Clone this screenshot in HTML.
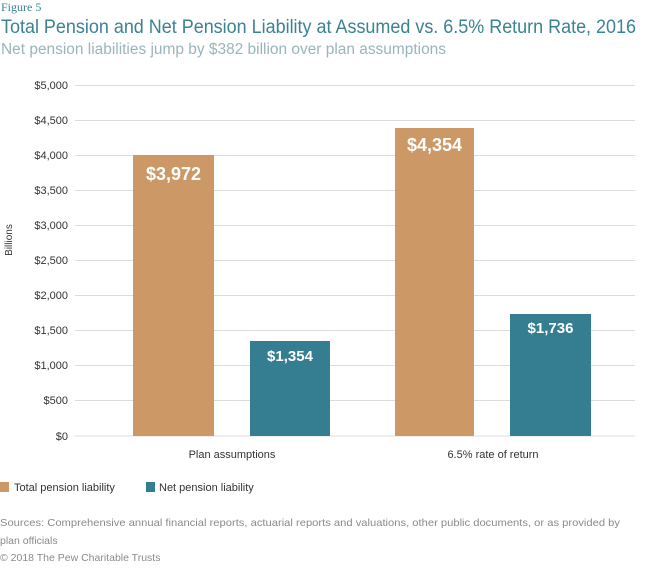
<!DOCTYPE html>
<html><head><meta charset="utf-8"><style>
body{margin:0;width:650px;height:564px;background:#fff;font-family:"Liberation Sans",sans-serif;overflow:hidden}
</style></head><body>
<svg width="650" height="564" xmlns="http://www.w3.org/2000/svg" font-family="Liberation Sans, sans-serif">
<text x="1" y="11" font-family="Liberation Serif, serif" font-size="12" fill="#3b8293">Figure 5</text>
<text x="1" y="33" font-size="19" fill="#3b8293" textLength="635" lengthAdjust="spacingAndGlyphs">Total Pension and Net Pension Liability at Assumed vs. 6.5% Return Rate, 2016</text>
<text x="1" y="54" font-size="15.5" fill="#9ab4bd" textLength="445" lengthAdjust="spacingAndGlyphs">Net pension liabilities jump by $382 billion over plan assumptions</text>
<g stroke="#dcdcdc" stroke-width="1">
<line x1="75" x2="635" y1="85.5" y2="85.5"/><line x1="75" x2="635" y1="120.5" y2="120.5"/>
<line x1="75" x2="635" y1="155.5" y2="155.5"/><line x1="75" x2="635" y1="190.5" y2="190.5"/>
<line x1="75" x2="635" y1="225.5" y2="225.5"/><line x1="75" x2="635" y1="260.5" y2="260.5"/>
<line x1="75" x2="635" y1="295.5" y2="295.5"/><line x1="75" x2="635" y1="330.5" y2="330.5"/>
<line x1="75" x2="635" y1="365.5" y2="365.5"/><line x1="75" x2="635" y1="400.5" y2="400.5"/>
<line x1="75" x2="635" y1="436" y2="436"/>
</g>
<g font-size="11" fill="#333" text-anchor="end">
<text x="68" y="89">$5,000</text><text x="68" y="124">$4,500</text><text x="68" y="159">$4,000</text>
<text x="68" y="194">$3,500</text><text x="68" y="229">$3,000</text><text x="68" y="264">$2,500</text>
<text x="68" y="299">$2,000</text><text x="68" y="334">$1,500</text><text x="68" y="369">$1,000</text>
<text x="68" y="404">$500</text><text x="68" y="440">$0</text>
</g>
<text transform="translate(12,240) rotate(-90)" font-size="10" fill="#333" text-anchor="middle">Billions</text>
<rect x="133" y="155" width="81" height="281" fill="#cc9966"/>
<rect x="250" y="341" width="80" height="95" fill="#357e91"/>
<rect x="395" y="128" width="79" height="308" fill="#cc9966"/>
<rect x="510" y="314" width="81" height="122" fill="#357e91"/>
<g font-size="18" font-weight="bold" fill="#fff" text-anchor="middle">
<text x="173.5" y="180">$3,972</text><text x="434.5" y="151">$4,354</text>
</g>
<g font-size="15" font-weight="bold" fill="#fff" text-anchor="middle">
<text x="290" y="361">$1,354</text><text x="550.5" y="333">$1,736</text>
</g>
<g font-size="11" fill="#333" text-anchor="middle">
<text x="232" y="458">Plan assumptions</text><text x="493" y="458">6.5% rate of return</text>
</g>
<rect x="0" y="482" width="9" height="10" fill="#cc9966"/>
<text x="14" y="491" font-size="11" fill="#333">Total pension liability</text>
<rect x="146" y="482" width="9" height="10" fill="#357e91"/>
<text x="159" y="491" font-size="11" fill="#333">Net pension liability</text>
<g font-size="10.5" fill="#8a8a8a">
<text x="0" y="526" textLength="620" lengthAdjust="spacingAndGlyphs">Sources: Comprehensive annual financial reports, actuarial reports and valuations, other public documents, or as provided by</text>
<text x="0" y="544">plan officials</text>
<text x="0" y="561">© 2018 The Pew Charitable Trusts</text>
</g>
</svg>
</body></html>
